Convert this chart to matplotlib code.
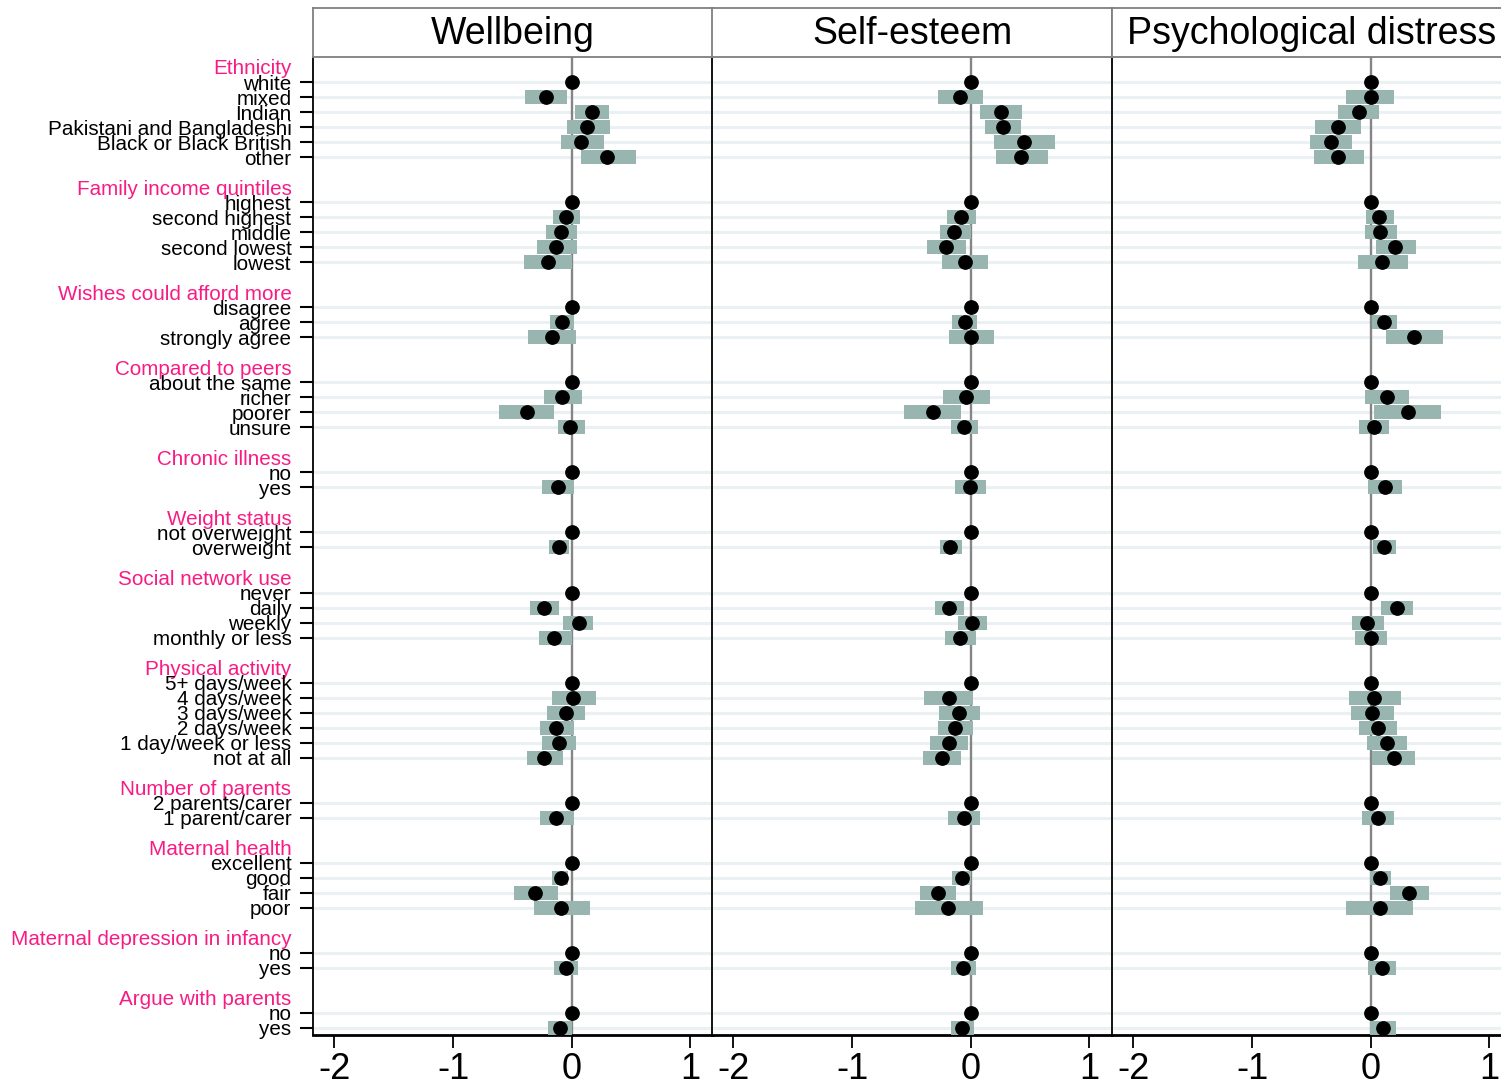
import numpy as np
import matplotlib.pyplot as plt

plt.rcParams['font.family'] = ['Liberation Sans', 'DejaVu Sans']

nan = np.nan

# -----------------------------
# Data (coefficients and 95% CI, reference categories have no CI)
# -----------------------------
groups = ["Ethnicity", "Family income quintiles", "Wishes could afford more",
          "Compared to peers", "Chronic illness", "Weight status",
          "Social network use", "Physical activity", "Number of parents",
          "Maternal health", "Maternal depression in infancy", "Argue with parents"]

items = [
    ["white", "mixed", "Indian", "Pakistani and Bangladeshi", "Black or Black British", "other"],
    ["highest", "second highest", "middle", "second lowest", "lowest"],
    ["disagree", "agree", "strongly agree"],
    ["about the same", "richer", "poorer", "unsure"],
    ["no", "yes"],
    ["not overweight", "overweight"],
    ["never", "daily", "weekly", "monthly or less"],
    ["5+ days/week", "4 days/week", "3 days/week", "2 days/week", "1 day/week or less", "not at all"],
    ["2 parents/carer", "1 parent/carer"],
    ["excellent", "good", "fair", "poor"],
    ["no", "yes"],
    ["no", "yes"],
]

outcomes = ["Wellbeing", "Self-esteem", "Psychological distress"]

wb_est = [0, -0.22, 0.17, 0.13, 0.08, 0.30,
          0, -0.05, -0.09, -0.13, -0.20,
          0, -0.085, -0.165,
          0, -0.08, -0.38, -0.015,
          0, -0.12,
          0, -0.105,
          0, -0.23, 0.06, -0.15,
          0, 0.01, -0.045, -0.13, -0.11, -0.23,
          0, -0.13,
          0, -0.09, -0.31, -0.09,
          0, -0.05,
          0, -0.10]
wb_lo = [nan, -0.39, 0.03, -0.04, -0.09, 0.08,
         nan, -0.16, -0.22, -0.29, -0.40,
         nan, -0.18, -0.37,
         nan, -0.23, -0.61, -0.12,
         nan, -0.25,
         nan, -0.19,
         nan, -0.35, -0.07, -0.28,
         nan, -0.17, -0.21, -0.27, -0.25, -0.38,
         nan, -0.27,
         nan, -0.165, -0.49, -0.32,
         nan, -0.15,
         nan, -0.20]
wb_hi = [nan, -0.04, 0.31, 0.32, 0.27, 0.54,
         nan, 0.07, 0.04, 0.04, 0.00,
         nan, 0.02, 0.035,
         nan, 0.09, -0.15, 0.11,
         nan, 0.02,
         nan, -0.02,
         nan, -0.11, 0.18, 0.00,
         nan, 0.205, 0.11, 0.02, 0.035, -0.075,
         nan, 0.02,
         nan, -0.03, -0.12, 0.15,
         nan, 0.055,
         nan, 0.00]

se_est = [0, -0.09, 0.255, 0.27, 0.45, 0.425,
          0, -0.085, -0.145, -0.21, -0.05,
          0, -0.05, 0.005,
          0, -0.04, -0.32, -0.055,
          0, -0.01,
          0, -0.175,
          0, -0.185, 0.013, -0.09,
          0, -0.18, -0.095, -0.135, -0.185, -0.245,
          0, -0.06,
          0, -0.075, -0.28, -0.19,
          0, -0.065,
          0, -0.07]
se_lo = [nan, -0.28, 0.075, 0.12, 0.20, 0.21,
         nan, -0.20, -0.26, -0.37, -0.245,
         nan, -0.155, -0.18,
         nan, -0.23, -0.56, -0.165,
         nan, -0.135,
         nan, -0.26,
         nan, -0.30, -0.11, -0.22,
         nan, -0.39, -0.265, -0.28, -0.34, -0.40,
         nan, -0.19,
         nan, -0.155, -0.425, -0.47,
         nan, -0.165,
         nan, -0.165]
se_hi = [nan, 0.105, 0.435, 0.42, 0.71, 0.65,
         nan, 0.04, 0.00, -0.04, 0.145,
         nan, 0.055, 0.195,
         nan, 0.16, -0.085, 0.065,
         nan, 0.125,
         nan, -0.075,
         nan, -0.06, 0.135, 0.04,
         nan, 0.02, 0.075, 0.015, -0.025, -0.085,
         nan, 0.075,
         nan, 0.005, -0.125, 0.105,
         nan, 0.04,
         nan, 0.03]

pd_est = [0, 0.0, -0.10, -0.28, -0.335, -0.275,
          0, 0.07, 0.08, 0.205, 0.095,
          0, 0.11, 0.365,
          0, 0.14, 0.31, 0.025,
          0, 0.12,
          0, 0.11,
          0, 0.225, -0.03, 0.005,
          0, 0.03, 0.01, 0.06, 0.14, 0.195,
          0, 0.06,
          0, 0.075, 0.325, 0.08,
          0, 0.095,
          0, 0.105]
pd_lo = [nan, -0.205, -0.28, -0.47, -0.51, -0.475,
         nan, -0.04, -0.05, 0.04, -0.11,
         nan, 0.01, 0.13,
         nan, -0.05, 0.025, -0.10,
         nan, -0.02,
         nan, 0.02,
         nan, 0.085, -0.16, -0.135,
         nan, -0.185, -0.17, -0.10, -0.03, 0.01,
         nan, -0.075,
         nan, -0.01, 0.165, -0.21,
         nan, -0.02,
         nan, -0.01]
pd_hi = [nan, 0.195, 0.07, -0.08, -0.16, -0.06,
         nan, 0.195, 0.22, 0.38, 0.31,
         nan, 0.22, 0.61,
         nan, 0.325, 0.59, 0.155,
         nan, 0.265,
         nan, 0.21,
         nan, 0.36, 0.11, 0.14,
         nan, 0.255, 0.195, 0.22, 0.305, 0.375,
         nan, 0.195,
         nan, 0.17, 0.49, 0.355,
         nan, 0.21,
         nan, 0.21]

results = [(wb_est, wb_lo, wb_hi), (se_est, se_lo, se_hi), (pd_est, pd_lo, pd_hi)]

# -----------------------------
# Row layout: header, items, blank line per group
# -----------------------------
item_pos, header_pos = [], []
slot = 0
for g, its in zip(groups, items):
    header_pos.append(slot)
    slot += 1
    for _ in its:
        item_pos.append(slot)
        slot += 1
    slot += 1
item_pos = np.array(item_pos)
item_labels = [lab for its in items for lab in its]

tick_pos = sorted(list(item_pos) + header_pos)
tick_labels = []
tick_is_header = []
hdr = dict(zip(header_pos, groups))
lab_iter = iter(item_labels)
for p in tick_pos:
    if p in hdr:
        tick_labels.append(hdr[p])
        tick_is_header.append(True)
    else:
        tick_labels.append(next(lab_iter))
        tick_is_header.append(False)

# -----------------------------
# Plotting
# -----------------------------
W, H = 1501, 1087
fig = plt.figure(figsize=(W / 100, H / 100), dpi=100)

panel_left = [313, 712, 1112]
pw = 400
top, bottom = 57, 1035
strip_top = 8

bar_color = "#98B6AF"
grid_color = "#EBF1F2"
pink = "#F81B84"

for k, (name, (est, lo, hi)) in enumerate(zip(outcomes, results)):
    x0 = panel_left[k]
    ax = fig.add_axes([x0 / W, 1 - bottom / H, pw / W, (bottom - top) / H])
    est = np.array(est, dtype=float)
    lo = np.array(lo, dtype=float)
    hi = np.array(hi, dtype=float)

    for p in item_pos:
        ax.axhline(p, color=grid_color, lw=2.2, zorder=1)
    ax.axvline(0, color="#858585", lw=1.7, zorder=2)

    m = ~np.isnan(lo)
    ax.barh(item_pos[m], hi[m] - lo[m], left=lo[m], height=0.93,
            color=bar_color, zorder=3)
    ax.plot(est, item_pos, "o", ms=9.6, color="black", zorder=4, clip_on=False)

    ax.set_xlim(-2.18, 1.19)
    ax.set_ylim(64.47, -0.666)
    ax.set_xticks([-2, -1, 0, 1])
    ax.set_xticklabels(["-2", "-1", "0", "1"])
    ax.tick_params(axis="x", labelsize=26, length=9.4, width=1.3, pad=2.5,
                   direction="out", colors="black")

    for s in ["top", "right"]:
        ax.spines[s].set_visible(False)
    ax.spines["left"].set_color("black")
    ax.spines["left"].set_linewidth(1.3)
    ax.spines["bottom"].set_linewidth(2.0)

    if k == 0:
        ax.set_yticks(tick_pos)
        ax.set_yticklabels(tick_labels)
        ax.tick_params(axis="y", labelsize=14.9, length=9.5, width=1.5, pad=6)
        for t, is_h in zip(ax.yaxis.get_major_ticks(), tick_is_header):
            if is_h:
                t.tick1line.set_visible(False)
                t.label1.set_color(pink)
    else:
        ax.set_yticks([])

    # strip title
    sax = fig.add_axes([x0 / W, 1 - top / H, pw / W, (top - strip_top) / H])
    sax.set_xticks([])
    sax.set_yticks([])
    for s in sax.spines.values():
        s.set_color("#7F7F7F")
        s.set_linewidth(1.3)
    sax.text(0.5, 0.47, name, ha="center", va="center", fontsize=27,
             transform=sax.transAxes)

fig.savefig("out.png", dpi=100)
